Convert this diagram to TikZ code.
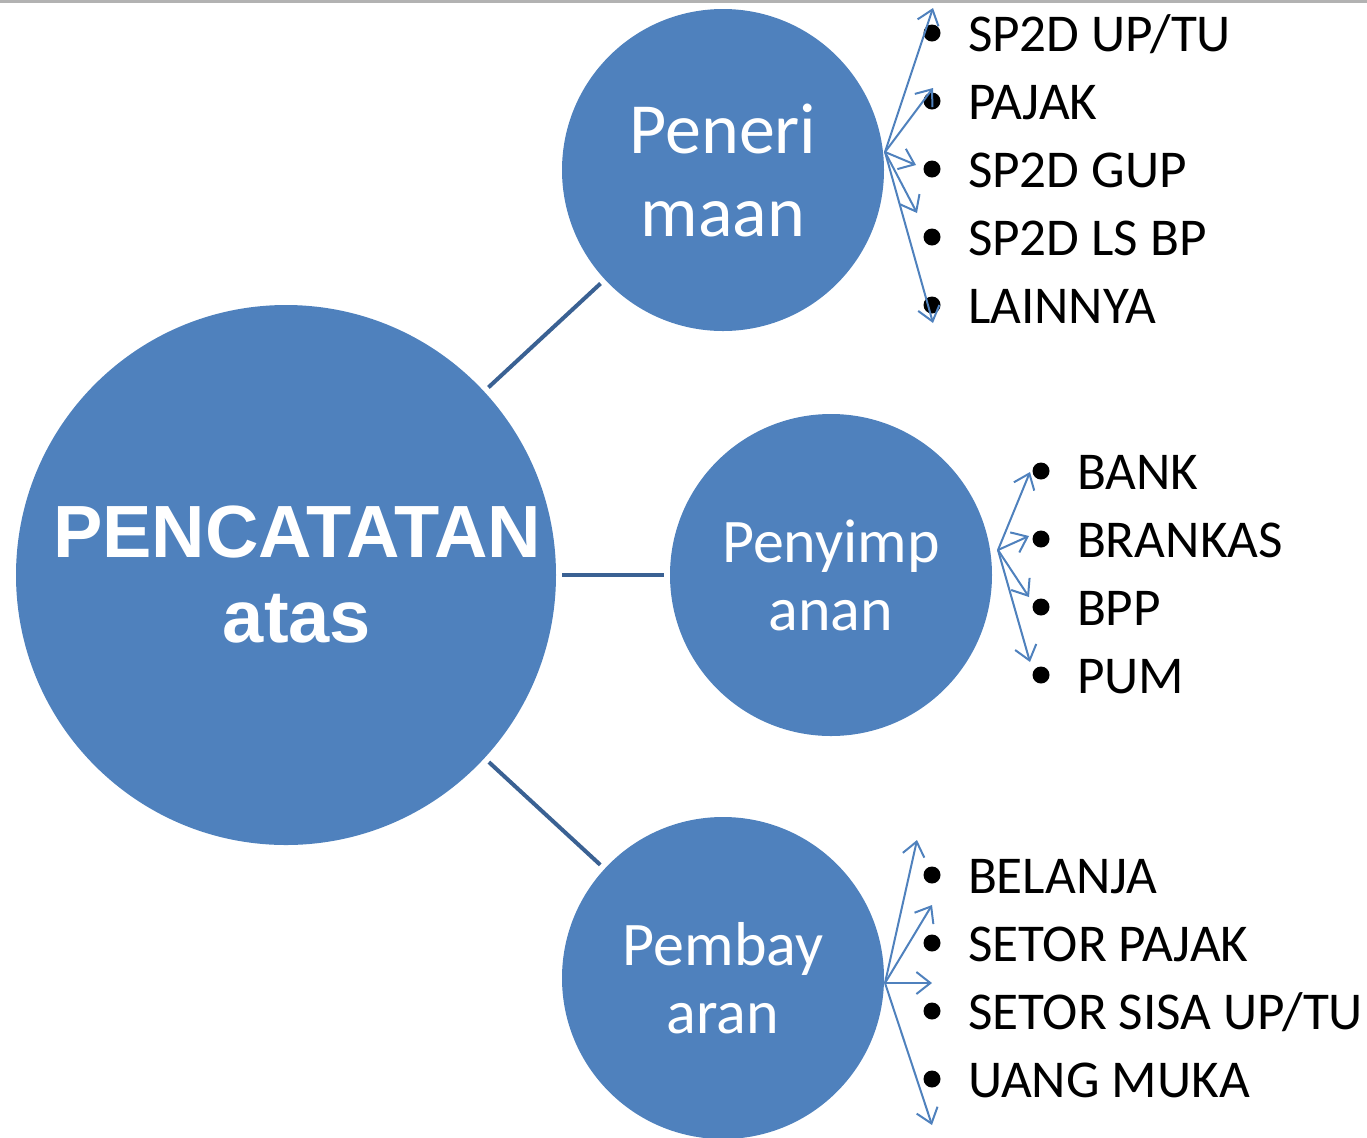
\documentclass[tikz,border=0pt]{standalone}
\usepackage{fontspec}
\setmainfont{Carlito}
\newfontfamily\arialfont{Liberation Sans}
\usetikzlibrary{arrows.meta}
\definecolor{bubble}{HTML}{4F81BD}
\definecolor{stem}{HTML}{3A6193}

\begin{document}
\begin{tikzpicture}[x=0.5pt, y=-0.5pt,
            every node/.style = {inner sep=0pt, outer sep=0pt},
            bubble/.style = {shape=circle, fill=bubble, text=white, align=center},
            entry/.style = {anchor=base west, font=\fontsize{26.6}{34}\selectfont},
            bulletdot/.style = {shape=circle, fill=black, minimum size=8.5pt},
            link/.style = {draw=stem, line width=2pt, shorten <=3pt, shorten >=3pt},
            pointer/.style = {draw=bubble, line width=1pt,
                              -{Straight Barb[length=7pt,width=11pt]}}]
    \useasboundingbox (0,0) rectangle (1367,1137);
    \draw[gray!60, line width=1.5pt] (0,1.5) -- (1367,1.5);

    % circles
    \node[bubble, minimum size=270pt, font=\arialfont\bfseries\fontsize{37}{42.5}\selectfont]
        (main) at (286,575) {\hspace*{11pt}PENCATATAN\\\hspace*{11pt}atas};
    \node[bubble, minimum size=161pt, font=\fontsize{36}{41.5}\selectfont]
        (terima) at (723,170) {Peneri\\maan};
    \node[bubble, minimum size=161pt, font=\fontsize{31}{34}\selectfont]
        (simpan) at (831,575) {Penyimp\\anan};
    \node[bubble, minimum size=161pt, font=\fontsize{31}{34}\selectfont]
        (bayar) at (723,978) {Pembay\\aran};

    \draw[link] (main) -- (terima);
    \draw[link] (main) -- (simpan);
    \draw[link] (main) -- (bayar);

    % lists
    \foreach \t [count=\i] in {SP2D UP/TU, PAJAK, SP2D GUP, SP2D LS BP, LAINNYA} {
        \node[bulletdot] (td\i) at (932,{33+68*(\i-1)}) {};
        \node[entry] (tt\i) at (968,{51+68*(\i-1)}) {\t};
    }
    \foreach \t [count=\i] in {BANK, BRANKAS, BPP, PUM} {
        \node[bulletdot] (sd\i) at (1041,{471+68*(\i-1)}) {};
        \node[entry] (st\i) at (1077,{489+68*(\i-1)}) {\t};
    }
    \foreach \t [count=\i] in {BELANJA, SETOR PAJAK, SETOR SISA UP/TU, UANG MUKA} {
        \node[bulletdot] (bd\i) at (932,{875+68*(\i-1)}) {};
        \node[entry] (bt\i) at (968,{893+68*(\i-1)}) {\t};
    }

    % arrows
    \coordinate (tfrom) at (885,152);
    \coordinate (sfrom) at (998,550);
    \coordinate (bfrom) at (885,983);
    \foreach \p [count=\i] in {(933,8), (933,88), (916,165), (917,213), (933,323)}
        \draw[pointer] (tfrom) -- \p coordinate (ta\i);
    \foreach \p [count=\i] in {(1030,472), (1029,536), (1029,597), (1030,662)}
        \draw[pointer] (sfrom) -- \p coordinate (sa\i);
    \foreach \p [count=\i] in {(917,840), (932,905), (932,983), (932,1125)}
        \draw[pointer] (bfrom) -- \p coordinate (ba\i);
\end{tikzpicture}
\end{document}
